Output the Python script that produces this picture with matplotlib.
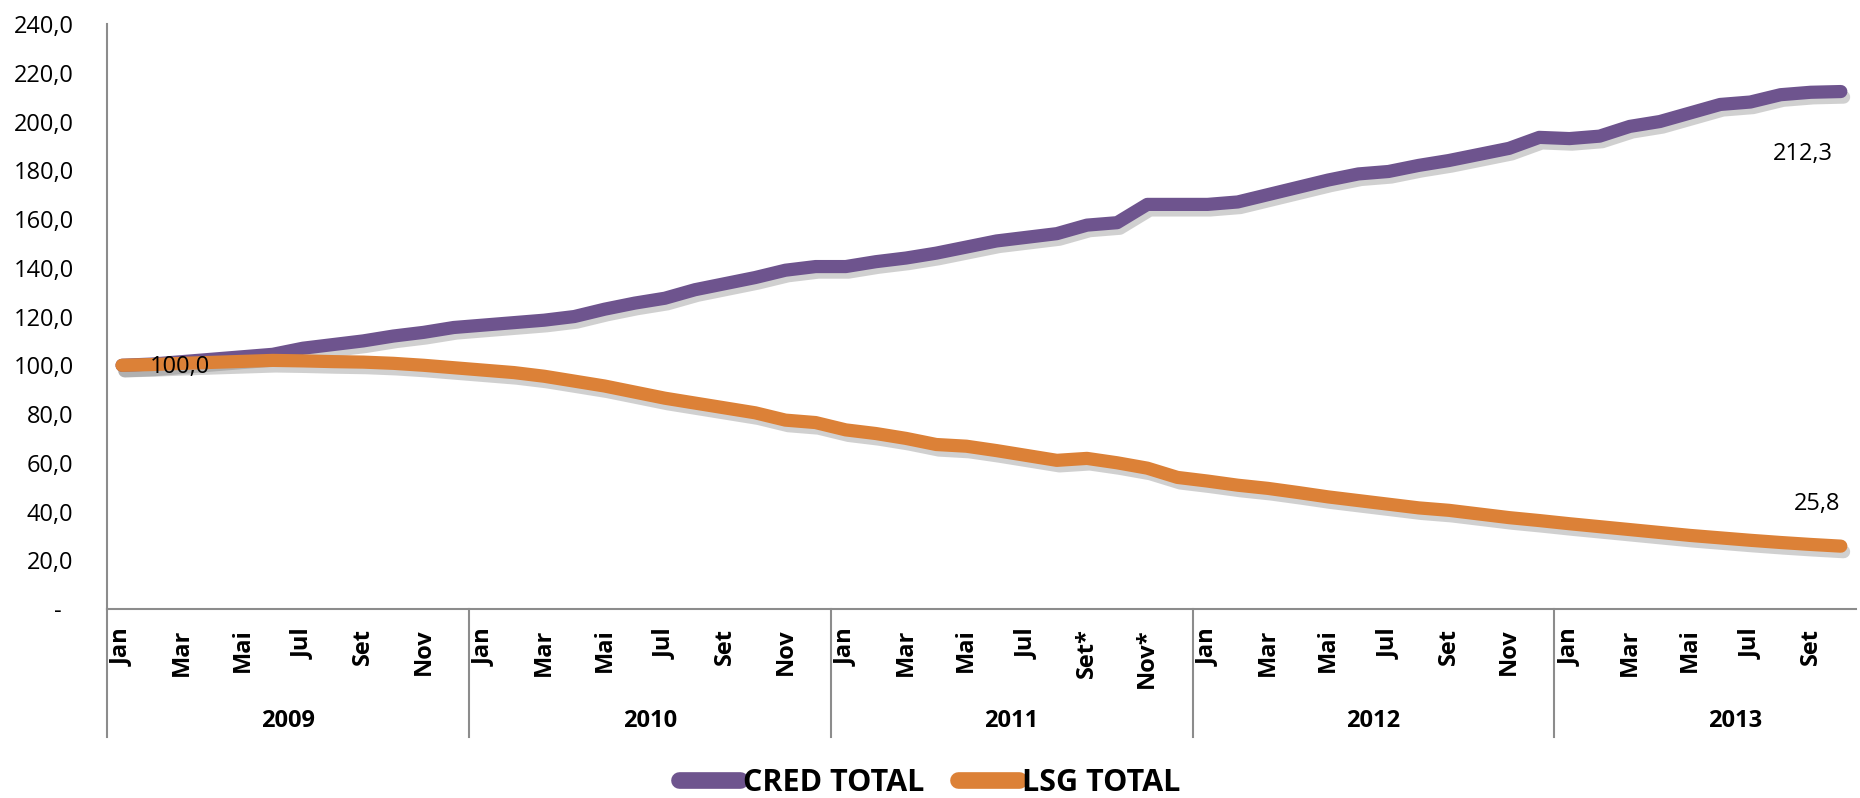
import matplotlib
matplotlib.use("Agg")
import matplotlib.pyplot as plt
import matplotlib.patheffects as pe
import matplotlib.transforms as mtransforms
from matplotlib.lines import Line2D

plt.rcParams["font.family"] = ["Open Sans", "DejaVu Sans"]

# dados (índice base Jan/2009 = 100)
years = ["2009", "2010", "2011", "2012", "2013"]
months_per_year = [12, 12, 12, 12, 10]
month_names = ["Jan", "Fev", "Mar", "Abr", "Mai", "Jun",
               "Jul", "Ago", "Set", "Out", "Nov", "Dez"]
starred = {("2011", "Set"), ("2011", "Out"), ("2011", "Nov"), ("2011", "Dez")}

cred_total = [
    100.0, 100.5, 101.5, 102.5, 103.5, 104.5, 107.0, 108.5, 110.0, 112.0, 113.5, 115.5,
    116.5, 117.5, 118.5, 120.0, 123.0, 125.5, 127.5, 131.0, 133.5, 136.0, 139.0, 140.5,
    140.5, 142.5, 144.0, 146.0, 148.5, 151.0, 152.5, 154.0, 157.5, 158.5, 166.0, 166.0,
    166.0, 167.0, 170.0, 173.0, 176.0, 178.5, 179.5, 182.0, 184.0, 186.5, 189.0, 193.5,
    193.0, 194.0, 198.0, 200.0, 203.5, 207.0, 208.0, 211.0, 212.0, 212.3,
]
lsg_total = [
    100.0, 100.3, 100.8, 101.2, 101.6, 102.0, 101.8, 101.5, 101.3, 100.8, 100.0, 99.0,
    98.0, 97.0, 95.5, 93.5, 91.5, 89.0, 86.5, 84.5, 82.5, 80.5, 77.5, 76.5,
    73.5, 72.0, 70.0, 67.5, 66.8, 65.0, 63.0, 61.0, 61.8, 60.0, 57.8, 54.0,
    52.5, 50.8, 49.5, 47.8, 46.0, 44.5, 43.0, 41.5, 40.5, 39.0, 37.5, 36.3,
    35.0, 33.8, 32.6, 31.4, 30.2, 29.2, 28.2, 27.3, 26.5, 25.8,
]

purple = "#6e548e"
orange = "#dc8137"

labels = []
for y, n in zip(years, months_per_year):
    for m in month_names[:n]:
        labels.append(m + "*" if (y, m) in starred else m)
x = list(range(len(labels)))

fig = plt.figure(figsize=(18.6, 7.98), dpi=100)
ax = fig.add_axes([0.0575, 0.2368, 0.9403, 0.7331])

shadow = [pe.SimpleLineShadow(offset=(2, -4), shadow_color="#666666", alpha=0.3),
          pe.Normal()]
ax.plot(x, cred_total, color=purple, lw=9.5, solid_capstyle="round",
        solid_joinstyle="round", path_effects=shadow, zorder=3)
ax.plot(x, lsg_total, color=orange, lw=9.5, solid_capstyle="round",
        solid_joinstyle="round", path_effects=shadow, zorder=4)

ax.set_xlim(-0.5, len(x) - 0.5)
ax.set_ylim(0, 240)
yt = list(range(0, 241, 20))
ax.set_yticks(yt)
ax.set_yticklabels(["-  " if v == 0 else f"{v},0" for v in yt], fontsize=17)
ax.tick_params(axis="y", length=0, pad=24)

ax.set_xticks(x[::2])
ax.set_xticklabels(labels[::2], rotation=90, fontsize=17, fontweight="bold",
                   va="top", ha="center")
ax.tick_params(axis="x", length=0, pad=14)

for side in ["top", "right"]:
    ax.spines[side].set_visible(False)
for side in ["left", "bottom"]:
    ax.spines[side].set_color("#8c8c8c")
    ax.spines[side].set_linewidth(1.5)

# rótulos de ano e separadores
trans = mtransforms.blended_transform_factory(ax.transData, fig.transFigure)
start = 0
for y, n in zip(years, months_per_year):
    ax.plot([start - 0.5, start - 0.5], [0.2368, 0.0764], transform=trans,
            color="#8c8c8c", lw=1.5, clip_on=False)
    ax.text(start + 5.5, 0.0965, y, transform=trans, ha="center", va="center",
            fontsize=17, fontweight="bold")
    start += n

# rótulos de dados
ax.annotate("100,0", (0, cred_total[0]), xytext=(42, -1), textcoords="offset points",
            ha="center", va="center", fontsize=17, zorder=5)
ax.annotate(f"{cred_total[-1]:.1f}".replace(".", ","), (x[-1], cred_total[-1]),
            xytext=(-27, -45), textcoords="offset points",
            ha="center", va="center", fontsize=17)
ax.annotate(f"{lsg_total[-1]:.1f}".replace(".", ","), (x[-1], lsg_total[-1]),
            xytext=(-17, 30), textcoords="offset points",
            ha="center", va="center", fontsize=17)

handles = [Line2D([], [], color=purple, lw=12, solid_capstyle="round"),
           Line2D([], [], color=orange, lw=12, solid_capstyle="round")]
fig.legend(handles, ["CRED TOTAL", "LSG TOTAL"], loc="center",
           bbox_to_anchor=(0.5, 0.019), ncol=2, frameon=False,
           handlelength=2.0, handletextpad=0.1, columnspacing=1.1,
           prop={"size": 22, "weight": "bold"})

fig.savefig("out.png", dpi=100)
